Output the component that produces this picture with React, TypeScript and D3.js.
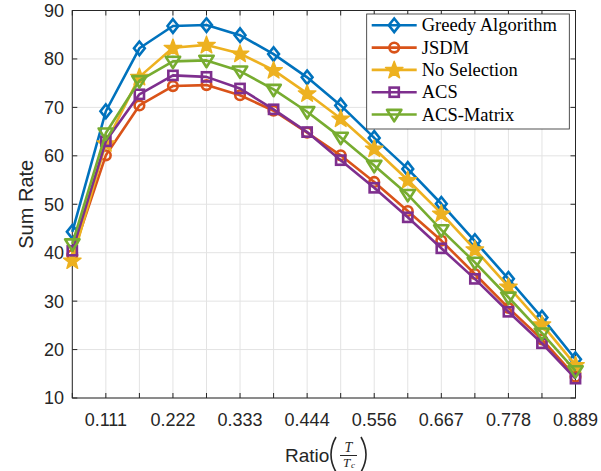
import React from 'react';
import * as d3 from 'd3';

// x positions (T / Tc) and the labels shown under every second tick
const ratio = [1 / 18, 2 / 18, 3 / 18, 4 / 18, 5 / 18, 6 / 18, 7 / 18, 8 / 18,
  9 / 18, 10 / 18, 11 / 18, 12 / 18, 13 / 18, 14 / 18, 15 / 18, 16 / 18];
const xTickLabels = ['0.111', '0.222', '0.333', '0.444', '0.556', '0.667', '0.778', '0.889'];
const yTicks = [10, 20, 30, 40, 50, 60, 70, 80, 90];

// sum rate per method
const greedy = [44.3, 69.2, 82.2, 86.8, 87.0, 84.9, 81.0, 76.2, 70.4, 63.7, 57.3, 50.1, 42.4, 34.6, 26.6, 18.0];
const jsdm = [39.5, 60.1, 70.4, 74.4, 74.6, 72.5, 69.3, 64.8, 60.1, 54.6, 48.6, 42.5, 35.6, 28.6, 22.1, 14.4];
const noSelection = [38.4, 62.6, 76.3, 82.3, 82.9, 81.1, 77.7, 72.9, 67.7, 61.5, 55.0, 48.1, 40.7, 33.0, 25.2, 16.8];
const acs = [40.4, 63.0, 72.7, 76.6, 76.3, 73.9, 69.6, 64.9, 59.1, 53.4, 47.3, 40.9, 34.6, 27.8, 21.3, 14.0];
const acsMatrix = [41.8, 64.7, 75.5, 79.5, 79.7, 77.5, 73.7, 69.1, 63.8, 58.0, 52.0, 44.7, 38.0, 30.8, 23.4, 15.6];

const names = ['Greedy Algorithm', 'JSDM', 'No Selection', 'ACS', 'ACS-Matrix'];
const values = [greedy, jsdm, noSelection, acs, acsMatrix];
const colors = ['#0072BD', '#D95319', '#EDB120', '#7E2F8E', '#77AC30'];
const markers = ['diamond', 'circle', 'star', 'square', 'triangle'];

const axisColor = '#262626';
const gridColor = '#e3e3e3';
const sans = '"Liberation Sans", Arial, Helvetica, sans-serif';
const serif = '"Liberation Serif", "Times New Roman", serif';
const lw = 2.6;

function Marker({ kind, cx, cy, color }: { kind: string; cx: number; cy: number; color: string }) {
  if (kind === 'diamond') {
    return <path d={`M${cx},${cy - 6.8}L${cx + 5.4},${cy}L${cx},${cy + 6.8}L${cx - 5.4},${cy}Z`}
      fill="none" stroke={color} strokeWidth={lw} />;
  }
  if (kind === 'circle') {
    return <circle cx={cx} cy={cy} r={4.8} fill="none" stroke={color} strokeWidth={lw} />;
  }
  if (kind === 'square') {
    return <rect x={cx - 4.6} y={cy - 4.6} width={9.2} height={9.2} fill="none" stroke={color} strokeWidth={lw} />;
  }
  if (kind === 'triangle') {
    return <path d={`M${cx - 7.2},${cy - 4.6}L${cx + 7.2},${cy - 4.6}L${cx},${cy + 6.8}Z`}
      fill="none" stroke={color} strokeWidth={lw} strokeLinejoin="round" />;
  }
  // pentagram
  const pts = d3.range(10).map(k => {
    const r = k % 2 === 0 ? 9.2 : 3.8;
    const a = -Math.PI / 2 + (k * Math.PI) / 5;
    return [cx + r * Math.cos(a), cy + 0.5 + r * Math.sin(a)];
  });
  return <path d={'M' + pts.map(p => p.join(',')).join('L') + 'Z'} fill={color} stroke={color} strokeWidth={1.4} strokeLinejoin="round" />;
}

export default function App() {
  const width = 601;
  const height = 471;
  const plot = { left: 72.3, right: 575.5, top: 10.5, bottom: 398 };

  const x = d3.scaleLinear().domain([ratio[0], ratio[ratio.length - 1]]).range([plot.left, plot.right]);
  const y = d3.scaleLinear().domain([10, 90]).range([plot.bottom, plot.top]);

  const line = d3.line<number>()
    .x((d, i) => x(ratio[i]))
    .y(d => y(d));

  const legend = { x: 366.7, y: 14, w: 202.6, h: 115, row0: 25.3, rowStep: 22.3 };

  return (
    <svg width={width} height={height} style={{ position: 'absolute', left: 0, top: 0, background: '#fff' }}>
      <rect width={width} height={height} fill="#fff" />

      {/* grid */}
      {ratio.map((r, i) => (
        <line key={'gx' + i} x1={x(r)} x2={x(r)} y1={plot.top} y2={plot.bottom} stroke={gridColor} strokeWidth={1} />
      ))}
      {yTicks.map(t => (
        <line key={'gy' + t} x1={plot.left} x2={plot.right} y1={y(t)} y2={y(t)} stroke={gridColor} strokeWidth={1} />
      ))}

      {/* ticks, pointing inward on all four sides */}
      {ratio.map((r, i) => (
        <g key={'tx' + i} stroke={axisColor} strokeWidth={1}>
          <line x1={x(r)} x2={x(r)} y1={plot.bottom} y2={plot.bottom - 5} />
          <line x1={x(r)} x2={x(r)} y1={plot.top} y2={plot.top + 5} />
        </g>
      ))}
      {yTicks.map(t => (
        <g key={'ty' + t} stroke={axisColor} strokeWidth={1}>
          <line x1={plot.left} x2={plot.left + 5} y1={y(t)} y2={y(t)} />
          <line x1={plot.right} x2={plot.right - 5} y1={y(t)} y2={y(t)} />
        </g>
      ))}

      {/* box */}
      <rect x={plot.left} y={plot.top} width={plot.right - plot.left} height={plot.bottom - plot.top}
        fill="none" stroke={axisColor} strokeWidth={1} />

      {/* tick labels */}
      {xTickLabels.map((lab, i) => (
        <text key={lab} x={x(ratio[i * 2 + 1])} y={426} textAnchor="middle"
          fontFamily={sans} fontSize={18} fill={axisColor}>{lab}</text>
      ))}
      {yTicks.map(t => (
        <text key={'yl' + t} x={64} y={y(t) + 6.4} textAnchor="end"
          fontFamily={sans} fontSize={18} fill={axisColor}>{t}</text>
      ))}

      {/* axis titles */}
      <text transform={`translate(33, ${(plot.top + plot.bottom) / 2}) rotate(-90)`} textAnchor="middle"
        fontFamily={sans} fontSize={20} fill={axisColor}>Sum Rate</text>
      <g fill={axisColor}>
        <text x={285} y={462} fontFamily={sans} fontSize={19}>Ratio</text>
        <path d="M336,437 Q326,454.5 336,472" fill="none" stroke={axisColor} strokeWidth={1.6} />
        <path d="M361,437 Q371,454.5 361,472" fill="none" stroke={axisColor} strokeWidth={1.6} />
        <text x={348.5} y={451.5} textAnchor="middle" fontFamily={serif} fontStyle="italic" fontSize={14}>T</text>
        <line x1={340} x2={357} y1={455.5} y2={455.5} stroke={axisColor} strokeWidth={1} />
        <text x={346.5} y={466.5} textAnchor="middle" fontFamily={serif} fontStyle="italic" fontSize={13}>T</text>
        <text x={353} y={467.5} textAnchor="middle" fontFamily={serif} fontStyle="italic" fontSize={9}>c</text>
      </g>

      {/* series */}
      {values.map((vals, s) => (
        <g key={names[s]}>
          <path d={line(vals) || ''} fill="none" stroke={colors[s]} strokeWidth={lw} strokeLinejoin="round" />
          {vals.map((v, i) => (
            <Marker key={i} kind={markers[s]} cx={x(ratio[i])} cy={y(v)} color={colors[s]} />
          ))}
        </g>
      ))}

      {/* legend */}
      <rect x={legend.x} y={legend.y} width={legend.w} height={legend.h} fill="#fff" stroke={axisColor} strokeWidth={0.8} />
      {names.map((n, s) => {
        const ry = legend.row0 + s * legend.rowStep;
        return (
          <g key={'lg' + n}>
            <line x1={371.7} x2={416.7} y1={ry} y2={ry} stroke={colors[s]} strokeWidth={lw} />
            <Marker kind={markers[s]} cx={394.2} cy={ry} color={colors[s]} />
            <text x={421.7} y={ry + 6} fontFamily={serif} fontSize={18.5} fill="#000">{n}</text>
          </g>
        );
      })}
    </svg>
  );
}
